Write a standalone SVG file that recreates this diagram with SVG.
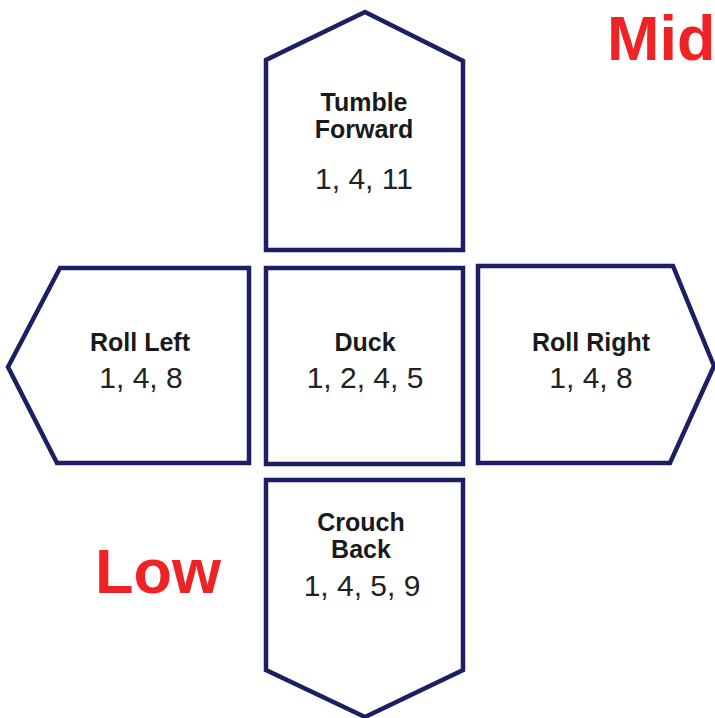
<svg xmlns="http://www.w3.org/2000/svg" width="715" height="718" viewBox="0 0 715 718">
<style>
.shape{fill:#fff;stroke:#1d1f63;stroke-width:4.5;stroke-linejoin:miter}
.t{font-family:"Liberation Sans",Arial,sans-serif;font-weight:bold;font-size:25px;fill:#1a1a1a;text-anchor:middle}
.n{font-family:"Liberation Sans",Arial,sans-serif;font-size:30px;fill:#222;text-anchor:middle}
.big{font-family:"Liberation Sans",Arial,sans-serif;font-weight:bold;font-size:63px;fill:#ee2326}
</style>
<rect width="715" height="718" fill="#fff"/>
<g id="tumble-forward">
<polygon class="shape" points="365,12 463,61 463,250 266,250 266,60"/>
<text class="t" x="364" y="111">Tumble</text>
<text class="t" x="364" y="138">Forward</text>
<text class="n" x="364" y="189">1, 4, 11</text>
</g>
<g id="roll-left">
<polygon class="shape" points="60,268 249,268 249,463 57,463 8,367"/>
<text class="t" x="140" y="351">Roll Left</text>
<text class="n" x="141" y="388">1, 4, 8</text>
</g>
<g id="duck">
<rect class="shape" x="266" y="268" width="197" height="196"/>
<text class="t" x="365" y="351">Duck</text>
<text class="n" x="365" y="388">1, 2, 4, 5</text>
</g>
<g id="roll-right">
<polygon class="shape" points="478,266 673,266 714,366 670,463 478,463"/>
<text class="t" x="591" y="351">Roll Right</text>
<text class="n" x="591" y="388">1, 4, 8</text>
</g>
<g id="crouch-back">
<polygon class="shape" points="266,480 463,480 463,670 365,717 266,670"/>
<text class="t" x="361" y="531">Crouch</text>
<text class="t" x="361" y="558">Back</text>
<text class="n" x="362" y="596">1, 4, 5, 9</text>
</g>
<g id="connectors"></g>
<text class="big" x="607" y="60">Mid</text>
<text class="big" x="95" y="593">Low</text>
</svg>
